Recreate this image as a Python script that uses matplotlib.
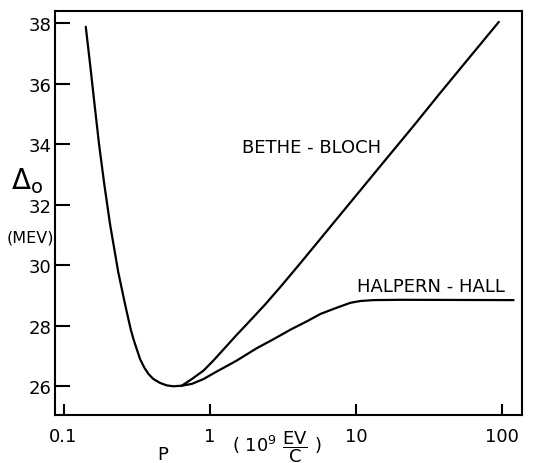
import matplotlib.pyplot as plt

plt.rcParams['font.family'] = 'DejaVu Sans'
plt.rcParams['mathtext.fontset'] = 'dejavusans'

# common low-momentum branch (GeV/c, MeV)
p_low = [0.142, 0.152, 0.163, 0.175, 0.190, 0.208, 0.237, 0.259, 0.268,
         0.278, 0.288, 0.301, 0.317, 0.334, 0.356, 0.381, 0.412, 0.458,
         0.509, 0.565, 0.645]
d_low = [37.88, 36.64, 35.32, 34.0, 32.68, 31.36, 29.76, 28.88, 28.55,
         28.21, 27.88, 27.55, 27.22, 26.89, 26.62, 26.40, 26.23, 26.10,
         26.02, 25.99, 26.01]

# Bethe-Bloch rise
p_bb = [0.645, 0.755, 0.908, 1.06, 1.31, 1.53, 1.80, 2.40, 3.04, 4.17,
        6.03, 10.0, 16.4, 25.0, 37.9, 60.0, 95.1]
d_bb = [26.01, 26.23, 26.51, 26.84, 27.33, 27.69, 28.05, 28.70, 29.27,
        30.06, 31.0, 32.29, 33.55, 34.62, 35.7, 36.87, 38.04]

# Halpern-Hall with density effect plateau
p_hh = [0.645, 0.755, 0.908, 1.09, 1.31, 1.53, 2.10, 2.74, 3.56, 4.63,
        5.71, 7.05, 8.03, 9.17, 10.7, 13.2, 20.2, 120.0]
d_hh = [26.01, 26.07, 26.23, 26.45, 26.66, 26.84, 27.25, 27.55, 27.86,
        28.14, 28.38, 28.55, 28.65, 28.75, 28.81, 28.84, 28.85, 28.84]

x_ticks = [0.1, 1, 10, 100]
x_labels = ['0.1', '1', '10', '100']
y_ticks = [26, 28, 30, 32, 34, 36, 38]

fig = plt.figure(figsize=(5.4, 4.64), dpi=100)
ax = fig.add_axes([0.1019, 0.1034, 0.8648, 0.8707])

for px, dy in [(p_low, d_low), (p_bb, d_bb), (p_hh, d_hh)]:
    ax.plot(px, dy, color='black', lw=1.6, solid_capstyle='round',
            solid_joinstyle='round')

ax.set_xscale('log')
ax.set_xlim(0.0875, 137)
ax.set_ylim(25.04, 38.4)

ax.set_xticks(x_ticks)
ax.set_xticklabels(x_labels)
ax.xaxis.set_minor_locator(plt.NullLocator())
ax.set_yticks(y_ticks)

ax.tick_params(axis='x', direction='in', length=8, width=1.5,
               labelsize=13, pad=8.5)
ax.tick_params(axis='y', direction='in', length=11, width=1.5,
               labelsize=13, pad=2.5)
for s in ax.spines.values():
    s.set_linewidth(1.5)

ax.text(1.662, 33.90, 'BETHE - BLOCH', fontsize=13, ha='left', va='center')
ax.text(10.24, 29.31, 'HALPERN - HALL', fontsize=13, ha='left', va='center')

# axis labels placed in figure pixels
fig.text(163 / 540, 1 - 455 / 464, 'P', fontsize=13, ha='center', va='center')
fig.text(277 / 540, 1 - 447 / 464,
         r'$(\ 10^9\ \dfrac{\mathrm{EV}}{\mathrm{C}}\ )$',
         fontsize=13, ha='center', va='center')
fig.text(27 / 540, 1 - 181 / 464, r'$\Delta_{\mathrm{o}}$', fontsize=20,
         ha='center', va='center')
fig.text(30 / 540, 1 - 238 / 464, '(MEV)', fontsize=11.5, ha='center',
         va='center')

fig.savefig('out.png', dpi=100)
